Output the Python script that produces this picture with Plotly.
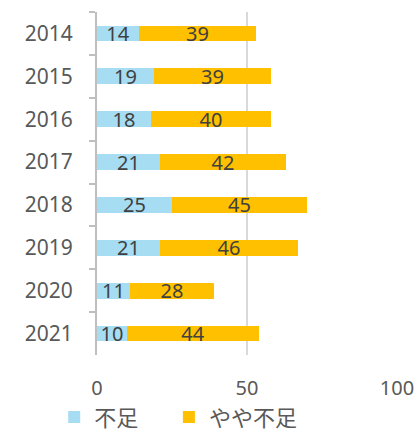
import plotly.graph_objects as go

years = ["2014", "2015", "2016", "2017", "2018", "2019", "2020", "2021"]
fusoku = [14, 19, 18, 21, 25, 21, 11, 10]
yaya_fusoku = [39, 39, 40, 42, 45, 46, 28, 44]
x_ticks = [0, 50, 100]

font_family = "Noto Sans, Noto Sans CJK JP, sans-serif"
text_color = "#404040"

fig = go.Figure()
fig.add_trace(go.Bar(
    y=years, x=fusoku, orientation="h", name="不足",
    marker=dict(color="#A6DDF3", line=dict(width=0)),
    text=fusoku, textposition="inside", insidetextanchor="middle",
    textangle=0, constraintext="none",
    textfont=dict(size=20, color=text_color, family=font_family),
    width=0.37, legend="legend",
))
fig.add_trace(go.Bar(
    y=years, x=yaya_fusoku, orientation="h", name="やや不足",
    marker=dict(color="#FFC000", line=dict(width=0)),
    text=yaya_fusoku, textposition="inside", insidetextanchor="middle",
    textangle=0, constraintext="none",
    textfont=dict(size=20, color=text_color, family=font_family),
    width=0.37, legend="legend2",
))

leg_common = dict(
    orientation="h", xref="container", xanchor="left",
    yref="container", yanchor="middle", y=0.034,
    font=dict(size=22, color="#595959"),
    itemwidth=30, bgcolor="rgba(0,0,0,0)",
)

fig.update_layout(
    barmode="stack",
    width=417, height=432,
    margin=dict(l=97, r=20, t=12, b=77, autoexpand=False),
    paper_bgcolor="white", plot_bgcolor="white",
    font=dict(family=font_family, color="#595959", size=20),
    showlegend=True,
    legend=dict(x=0.13, **leg_common),
    legend2=dict(x=0.405, **leg_common),
    xaxis=dict(
        range=[0, 100], tickvals=x_ticks, showgrid=True,
        gridcolor="#D9D9D9", gridwidth=2, zeroline=False,
        showline=False, ticks="", tickfont=dict(size=20, color="#595959"),
        ticklabelstandoff=19, automargin=False,
    ),
    yaxis=dict(
        autorange="reversed", type="category",
        showline=True, linecolor="#BFBFBF", linewidth=2,
        ticks="outside", tickson="boundaries", ticklen=6,
        tickcolor="#BFBFBF", tickwidth=2,
        tickfont=dict(size=21, color="#595959"),
        showgrid=False, ticklabelstandoff=18, automargin=False,
    ),
)

fig.write_html("out.html")
